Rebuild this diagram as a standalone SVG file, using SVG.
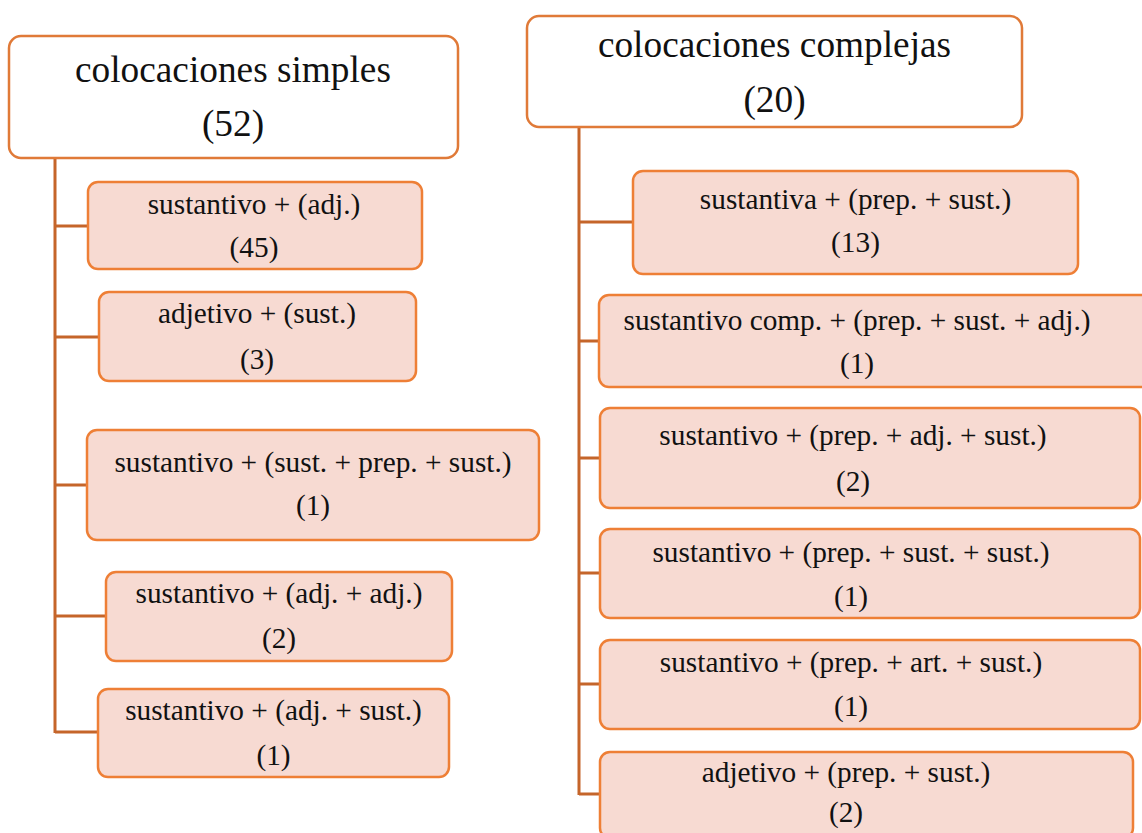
<svg xmlns="http://www.w3.org/2000/svg" width="1142" height="833" viewBox="0 0 1142 833">
<style>
.root{fill:#ffffff;stroke:#E07A38;stroke-width:2.5}
.child{fill:#F7DAD2;stroke:#EE7F36;stroke-width:2.5}
.conn{fill:none;stroke:#C5652A;stroke-width:3}
text{fill:#111;text-anchor:middle}
.t1{font-size:37.3px}
.t2{font-size:29.3px}
</style>
<rect width="1142" height="833" fill="#ffffff"/>
<g id="connectors">
<path class="conn" d="M55,158 V733 M55,226 H88 M55,337 H99 M55,485 H87 M55,616 H106 M55,732 H98"/>
<path class="conn" d="M579,127 V795 M579,222 H633 M579,341 H599 M579,458 H600 M579,573 H600 M579,684 H600 M579,794 H600"/>
</g>
<g font-family="'Liberation Serif', 'DejaVu Serif', serif">
<g id="root-simples">
<rect class="root" x="9" y="36" width="449" height="122" rx="12"/>
<text class="t1" x="233" y="82">colocaciones simples</text>
<text class="t1" x="233" y="136">(52)</text>
</g>
<g id="root-complejas">
<rect class="root" x="527" y="16" width="495" height="111" rx="12"/>
<text class="t1" x="774.5" y="57">colocaciones complejas</text>
<text class="t1" x="774.5" y="112">(20)</text>
</g>
<g id="s1">
<rect class="child" x="88" y="182" width="334" height="87" rx="10"/>
<text class="t2" x="254" y="214">sustantivo + (adj.)</text>
<text class="t2" x="254" y="257">(45)</text>
</g>
<g id="s2">
<rect class="child" x="99" y="292" width="317" height="89" rx="10"/>
<text class="t2" x="257" y="323">adjetivo + (sust.)</text>
<text class="t2" x="257" y="369">(3)</text>
</g>
<g id="s3">
<rect class="child" x="87" y="430" width="452" height="110" rx="10"/>
<text class="t2" x="313" y="472">sustantivo + (sust. + prep. + sust.)</text>
<text class="t2" x="313" y="515">(1)</text>
</g>
<g id="s4">
<rect class="child" x="106" y="572" width="346" height="89" rx="10"/>
<text class="t2" x="279" y="603">sustantivo + (adj. + adj.)</text>
<text class="t2" x="279" y="648">(2)</text>
</g>
<g id="s5">
<rect class="child" x="98" y="689" width="351" height="88" rx="10"/>
<text class="t2" x="273.5" y="720">sustantivo + (adj. + sust.)</text>
<text class="t2" x="273.5" y="765">(1)</text>
</g>
<g id="c1">
<rect class="child" x="633" y="171" width="445" height="103" rx="10"/>
<text class="t2" x="855.5" y="209">sustantiva + (prep. + sust.)</text>
<text class="t2" x="855.5" y="252">(13)</text>
</g>
<g id="c2">
<rect class="child" x="599" y="295" width="556" height="92" rx="10"/>
<text class="t2" x="857" y="330">sustantivo comp. + (prep. + sust. + adj.)</text>
<text class="t2" x="857" y="373">(1)</text>
</g>
<g id="c3">
<rect class="child" x="600" y="408" width="540" height="100" rx="10"/>
<text class="t2" x="853" y="445">sustantivo + (prep. + adj. + sust.)</text>
<text class="t2" x="853" y="491">(2)</text>
</g>
<g id="c4">
<rect class="child" x="600" y="529" width="540" height="89" rx="10"/>
<text class="t2" x="851" y="562">sustantivo + (prep. + sust. + sust.)</text>
<text class="t2" x="851" y="606">(1)</text>
</g>
<g id="c5">
<rect class="child" x="600" y="640" width="540" height="89" rx="10"/>
<text class="t2" x="851" y="672">sustantivo + (prep. + art. + sust.)</text>
<text class="t2" x="851" y="716">(1)</text>
</g>
<g id="c6">
<rect class="child" x="600" y="752" width="533" height="86" rx="10"/>
<text class="t2" x="846" y="782">adjetivo + (prep. + sust.)</text>
<text class="t2" x="846" y="822">(2)</text>
</g>
</g>
</svg>
